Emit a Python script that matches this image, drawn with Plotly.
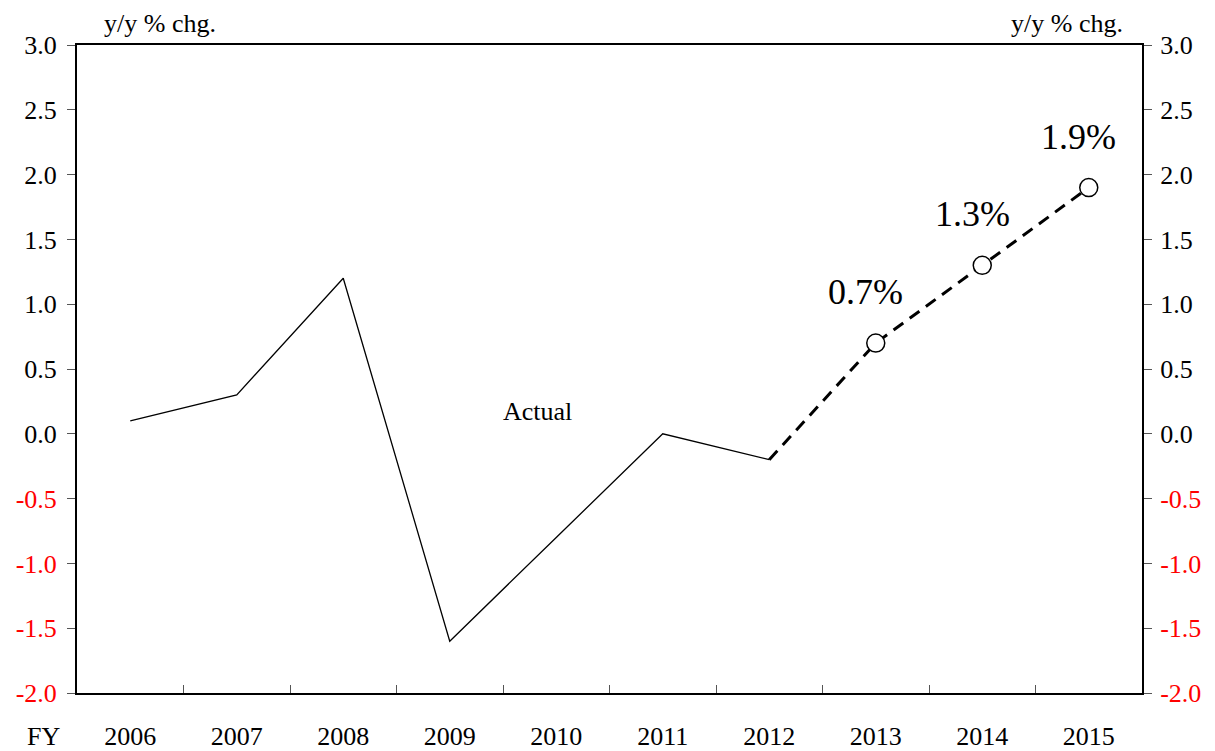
import plotly.graph_objects as go

years = ["2006", "2007", "2008", "2009", "2010", "2011", "2012", "2013", "2014", "2015"]
actual_years = ["2006", "2007", "2008", "2009", "2010", "2011", "2012"]
actual_vals = [0.1, 0.3, 1.2, -1.6, -0.8, 0.0, -0.2]
fc_years = ["2012", "2013", "2014", "2015"]
fc_vals = [-0.2, 0.7, 1.3, 1.9]
label_years = ["2013", "2014", "2015"]
label_vals = [0.7, 1.3, 1.9]
label_text = ["0.7%", "1.3%", "1.9%"]
yticks = [3.0, 2.5, 2.0, 1.5, 1.0, 0.5, 0.0, -0.5, -1.0, -1.5, -2.0]

FONT = "Liberation Serif"
TS = 26
ticktext = [(f"<span style='color:red'>{v:.1f}</span>" if v < 0 else f"{v:.1f}") for v in yticks]

fig = go.Figure()
fig.add_trace(go.Scatter(x=actual_years, y=actual_vals, mode="lines",
                         line=dict(color="black", width=1.3), showlegend=False))
fig.add_trace(go.Scatter(x=fc_years, y=fc_vals, mode="lines",
                         line=dict(color="black", width=3, dash="12px,8px"), showlegend=False))
fig.add_trace(go.Scatter(x=label_years, y=label_vals, mode="markers",
                         marker=dict(symbol="circle", size=18, color="white",
                                     line=dict(color="black", width=1.5)),
                         showlegend=False))
fig.add_trace(go.Scatter(x=years, y=[None]*len(years), yaxis="y2", showlegend=False))

annotations = [
    dict(text="y/y % chg.", xref="paper", yref="paper", x=0.078, y=1.0,
         xanchor="center", yanchor="bottom", yshift=5, showarrow=False,
         font=dict(family=FONT, size=TS)),
    dict(text="y/y % chg.", xref="paper", yref="paper", x=0.93, y=1.0,
         xanchor="center", yanchor="bottom", yshift=5, showarrow=False,
         font=dict(family=FONT, size=TS)),
    dict(text="Actual", xref="x", yref="y", x=years.index("2010"), y=0.17,
         xanchor="center", yanchor="middle", showarrow=False,
         xshift=-19, font=dict(family=FONT, size=TS)),
    dict(text="FY", xref="paper", yref="paper", x=0, y=0,
         xanchor="center", yanchor="middle", xshift=-34, yshift=-43,
         showarrow=False, font=dict(family=FONT, size=TS)),
]
for yr, v, t in zip(label_years, label_vals, label_text):
    annotations.append(dict(text=t, xref="x", yref="y", x=years.index(yr), y=v,
                            xanchor="center", yanchor="middle", yshift=51, xshift=-10,
                            showarrow=False, font=dict(family=FONT, size=36)))

fig.update_layout(
    width=1207, height=743,
    margin=dict(l=69, r=73, t=37, b=58),
    plot_bgcolor="white", paper_bgcolor="white",
    font=dict(family=FONT, size=TS, color="black"),
    xaxis=dict(type="category", categoryorder="array", categoryarray=years,
               range=[-0.5, 9.5], showgrid=False, zeroline=False, automargin=False,
               showline=True, linecolor="black", linewidth=2, mirror=True,
               ticks="inside", tickson="boundaries", ticklen=8, tickcolor="#555",
               tickfont=dict(family=FONT, size=TS), ticklabelstandoff=19),
    yaxis=dict(range=[-2.0, 3.0], tickvals=yticks, ticktext=ticktext, automargin=False,
               showgrid=False, zeroline=False, showline=True, linecolor="black",
               linewidth=2, ticks="outside", ticklen=8, tickcolor="#555",
               ticklabelstandoff=5, tickfont=dict(family=FONT, size=TS)),
    yaxis2=dict(range=[-2.0, 3.0], tickvals=yticks, ticktext=ticktext, automargin=False,
                overlaying="y", side="right", showgrid=False, zeroline=False,
                showline=True, linecolor="black", linewidth=2, ticks="outside",
                ticklen=8, tickcolor="#555", ticklabelstandoff=3,
                tickfont=dict(family=FONT, size=TS)),
    annotations=annotations,
)

fig.write_html("out.html")
